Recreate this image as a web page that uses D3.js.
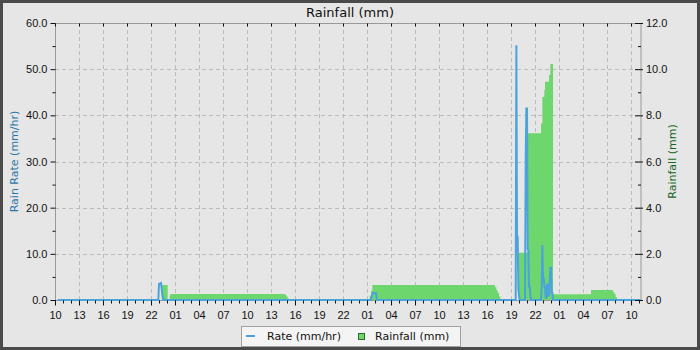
<!DOCTYPE html>
<html>
<head>
<meta charset="utf-8">
<script src="https://cdn.jsdelivr.net/npm/d3@7"></script>
<style>
  html, body { margin: 0; padding: 0; background: #4a4a4a; }
  svg { display: block; font-family: "DejaVu Sans", sans-serif; }
</style>
</head>
<body>
<div id="chart"></div>
<script>
// rain rate (mm/hr), left axis
const rateTimes = [
  "2024-05-10 10:20", "2024-05-10 22:55", "2024-05-10 23:00", "2024-05-10 23:15",
  "2024-05-10 23:25", "2024-05-10 23:35",
  "2024-05-12 01:30", "2024-05-12 01:38", "2024-05-12 01:45", "2024-05-12 02:07", "2024-05-12 02:15",
  "2024-05-12 19:35", "2024-05-12 19:40", "2024-05-12 19:45", "2024-05-12 19:50", "2024-05-12 19:55",
  "2024-05-12 20:00", "2024-05-12 20:05",
  "2024-05-12 20:45", "2024-05-12 20:50", "2024-05-12 20:55", "2024-05-12 21:00", "2024-05-12 21:05",
  "2024-05-12 21:10", "2024-05-12 21:15", "2024-05-12 21:20", "2024-05-12 21:25", "2024-05-12 21:30",
  "2024-05-12 22:45", "2024-05-12 22:50", "2024-05-12 22:55", "2024-05-12 23:00", "2024-05-12 23:05",
  "2024-05-12 23:10", "2024-05-12 23:15", "2024-05-12 23:20", "2024-05-12 23:25", "2024-05-12 23:30",
  "2024-05-12 23:35", "2024-05-12 23:40", "2024-05-12 23:45", "2024-05-12 23:55", "2024-05-13 00:00",
  "2024-05-13 00:05", "2024-05-13 00:10", "2024-05-13 00:15", "2024-05-13 11:11"
];
const rateValues = [
  0, 0, 3.5, 3.7,
  1.2, 0,
  0, 1.0, 1.5, 1.5, 0,
  0, 55.2, 13.7, 13.7, 2.5,
  1.0, 0,
  0, 30.3, 41.5, 41.5, 11,
  10.8, 2.9, 2.9, 1.0, 0,
  0, 2.9, 11.9, 4.7, 4.7,
  2.9, 2.9, 0.5, 0.5, 3.3,
  3.3, 1.0, 1.0, 7.0, 7.0,
  1.5, 1.5, 0, 0
];

// rainfall (mm), right axis
const rainTimes = [
  "2024-05-10 10:20", "2024-05-10 23:20", "2024-05-11 00:05", "2024-05-11 00:20", "2024-05-11 00:25",
  "2024-05-11 14:45", "2024-05-11 14:55", "2024-05-11 15:05", "2024-05-11 15:15",
  "2024-05-12 01:20", "2024-05-12 01:30", "2024-05-12 01:40",
  "2024-05-12 17:00", "2024-05-12 17:10", "2024-05-12 17:20", "2024-05-12 17:30", "2024-05-12 17:40",
  "2024-05-12 20:00", "2024-05-12 21:05", "2024-05-12 22:45", "2024-05-12 22:55", "2024-05-12 23:10",
  "2024-05-12 23:15", "2024-05-12 23:45", "2024-05-12 23:55", "2024-05-13 00:15",
  "2024-05-13 05:00", "2024-05-13 07:45", "2024-05-13 07:55", "2024-05-13 08:05", "2024-05-13 08:15",
  "2024-05-13 11:11"
];
const rainValues = [
  0, 0.65, 0, 0.2, 0.26,
  0.22, 0.15, 0.07, 0,
  0.2, 0.4, 0.65,
  0.55, 0.42, 0.3, 0.15, 0,
  2.05, 7.22, 7.65, 8.8, 9.1,
  9.46, 9.75, 10.22, 0.25,
  0.43, 0.35, 0.25, 0.12, 0,
  0
];

const leftTicks = [0, 10, 20, 30, 40, 50, 60];
const rightTicks = [0, 2, 4, 6, 8, 10, 12];
const xStart = "2024-05-10 10:00";
const xEnd = "2024-05-13 11:11";

const W = 700, H = 350;
const margin = { left: 55, right: 59.5, top: 23, bottom: 50 };
const parse = d3.timeParse("%Y-%m-%d %H:%M");

const rate = rateTimes.map((t, i) => ({ t: parse(t), v: rateValues[i] }));
const rain = rainTimes.map((t, i) => ({ t: parse(t), v: rainValues[i] }));

const svg = d3.select("#chart").append("svg").attr("width", W).attr("height", H);

// light panel inside the dark frame
svg.append("rect").attr("x", 3).attr("y", 3).attr("width", W - 6).attr("height", H - 6).attr("fill", "#e6e6e6");

const x0 = margin.left, x1 = W - margin.right, y0 = H - margin.bottom, y1 = margin.top;

const x = d3.scaleTime().domain([parse(xStart), parse(xEnd)]).range([x0, x1]);
const yL = d3.scaleLinear().domain([0, 60]).range([y0, y1]);
const yR = d3.scaleLinear().domain([0, 12]).range([y0, y1]);

const majorHours = d3.timeHour.filter(d => d.getHours() % 3 === 1);

// grid
const grid = svg.append("g").attr("stroke", "#bcbcbc").attr("stroke-dasharray", "4,3").attr("stroke-width", 1);
grid.selectAll(".gx").data(x.ticks(majorHours)).join("line")
  .attr("x1", d => Math.round(x(d)) + 0.5).attr("x2", d => Math.round(x(d)) + 0.5)
  .attr("y1", y1).attr("y2", y0);
grid.selectAll(".gy").data(leftTicks.slice(1, -1)).join("line")
  .attr("x1", x0).attr("x2", x1)
  .attr("y1", d => Math.round(yL(d)) + 0.5).attr("y2", d => Math.round(yL(d)) + 0.5);

// rainfall area
const area = d3.area()
  .x(d => x(d.t)).y0(y0).y1(d => yR(d.v))
  .curve(d3.curveStepAfter);
svg.append("path").datum(rain)
  .attr("fill", "#6dd66d").attr("d", area);

// frame
svg.append("rect").attr("x", x0 + 0.5).attr("y", y1 + 0.5)
  .attr("width", x1 - x0).attr("height", y0 - y1)
  .attr("fill", "none").attr("stroke", "#999");

// rate line
const line = d3.line().x(d => x(d.t)).y(d => yL(d.v));
svg.append("path").datum(rate)
  .attr("fill", "none").attr("stroke", "#4ba3dc").attr("stroke-width", 2)
  .attr("d", line);

// axes
const fmt = d3.format(".1f");
const axisStyle = g => {
  g.select(".domain").remove();
  g.selectAll("line").attr("stroke", "#111");
  g.selectAll("text").attr("fill", "#111").style("font-size", "11px");
};

svg.append("g").attr("transform", `translate(0,${y0 + 0.5})`)
  .call(d3.axisBottom(x).ticks(d3.timeHour.every(1)).tickSize(3).tickFormat(""))
  .call(axisStyle);
svg.append("g").attr("transform", `translate(0,${y0 + 0.5})`)
  .call(d3.axisBottom(x).ticks(majorHours).tickSize(5).tickPadding(6).tickFormat(d3.timeFormat("%H")))
  .call(axisStyle);
svg.append("g").attr("transform", `translate(0,${y1 + 0.5})`)
  .call(d3.axisBottom(x).ticks(majorHours).tickSize(3).tickFormat(""))
  .call(axisStyle);

svg.append("g").attr("transform", `translate(${x0 + 0.5},0)`)
  .call(d3.axisLeft(yL).tickValues(d3.range(5, 60, 10)).tickSize(3).tickFormat(""))
  .call(axisStyle);
svg.append("g").attr("transform", `translate(${x0 + 0.5},0)`)
  .call(d3.axisLeft(yL).tickValues(leftTicks).tickSize(5).tickPadding(3).tickFormat(fmt))
  .call(axisStyle);

svg.append("g").attr("transform", `translate(${x1 + 0.5},0)`)
  .call(d3.axisLeft(yR).tickValues(d3.range(1, 12, 2)).tickSize(3).tickFormat(""))
  .call(axisStyle);
svg.append("g").attr("transform", `translate(${x1 - 5.5},0)`)
  .call(d3.axisRight(yR).tickValues(rightTicks).tickSize(8).tickPadding(3).tickFormat(fmt))
  .call(axisStyle);

// titles
svg.append("text").attr("x", W / 2).attr("y", 17).attr("text-anchor", "middle")
  .style("font-size", "13px").attr("fill", "#111").text("Rainfall (mm)");
svg.append("text").attr("transform", `translate(18,${(y0 + y1) / 2}) rotate(-90)`)
  .attr("text-anchor", "middle").style("font-size", "11px").attr("fill", "#2a76a8")
  .text("Rain Rate (mm/hr)");
svg.append("text").attr("transform", `translate(676,${(y0 + y1) / 2}) rotate(-90)`)
  .attr("text-anchor", "middle").style("font-size", "11px").attr("fill", "#17661b")
  .text("Rainfall (mm)");

// legend
const lg = svg.append("g").attr("transform", "translate(241,326)");
lg.append("rect").attr("x", 0.5).attr("y", 0.5).attr("width", 219).attr("height", 20)
  .attr("fill", "#f4f4f4").attr("stroke", "#a0a0a0");
lg.append("line").attr("x1", 5).attr("x2", 14).attr("y1", 10).attr("y2", 10)
  .attr("stroke", "#4ba3dc").attr("stroke-width", 2);
lg.append("text").attr("x", 26).attr("y", 14).style("font-size", "11px").attr("fill", "#111").text("Rate (mm/hr)");
lg.append("rect").attr("x", 117.5).attr("y", 7.5).attr("width", 6).attr("height", 6)
  .attr("fill", "#6dd66d").attr("stroke", "#2f6b2f");
lg.append("text").attr("x", 134).attr("y", 14).style("font-size", "11px").attr("fill", "#111").text("Rainfall (mm)");
</script>
</body>
</html>
